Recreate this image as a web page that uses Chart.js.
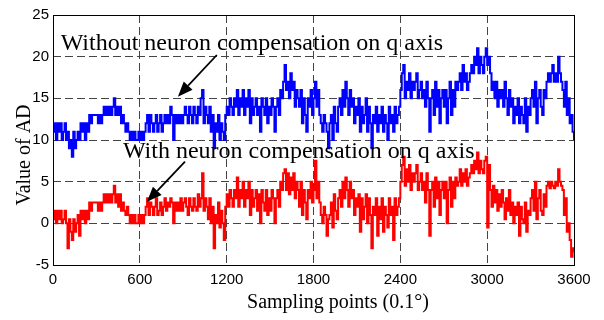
<!DOCTYPE html>
<html>
<head>
<meta charset="utf-8">
<script src="https://cdn.jsdelivr.net/npm/chart.js@4"></script>
<style>
  html, body { margin: 0; padding: 0; background: #fff; }
  #wrap { width: 604px; height: 320px; }
</style>
</head>
<body>
<div id="wrap"><canvas id="ad-chart" width="604" height="320"></canvas></div>
<script>
// sampling step between stored points (0.1 deg units)
const sampleStep = 10;

// AD values without neuron compensation (blue), one per sampleStep
const withoutComp = [
  11, 12, 10, 12, 11, 12, 10, 11, 12, 10,
  11, 9, 10, 8, 11, 9, 10, 11, 10, 12,
  11, 12, 10, 12, 11, 13, 12, 13, 13, 13,
  13, 12, 13, 12, 13, 14, 13, 14, 13, 14,
  13, 14, 15, 13, 14, 13, 14, 12, 13, 12,
  11, 12, 11, 10, 11, 10, 11, 10, 10, 11,
  10, 11, 10, 11, 12, 13, 11, 13, 12, 11,
  12, 13, 11, 12, 13, 11, 12, 13, 12, 13,
  12, 14, 13, 10, 13, 12, 13, 12, 13, 12,
  13, 14, 13, 12, 14, 13, 12, 14, 13, 12,
  14, 13, 15, 16, 12, 14, 13, 12, 14, 11,
  13, 9, 12, 11, 13, 10, 12, 11, 10, 13,
  14, 13, 15, 14, 13, 15, 14, 16, 13, 15,
  14, 16, 13, 15, 14, 16, 12, 15, 13, 14,
  15, 13, 14, 11, 15, 14, 13, 15, 12, 14,
  13, 15, 14, 11, 14, 15, 13, 16, 15, 17,
  19, 16, 17, 15, 18, 16, 17, 14, 16, 15,
  14, 16, 12, 15, 13, 11, 15, 14, 16, 13,
  15, 17, 14, 16, 13, 12, 11, 13, 12, 11,
  9, 12, 13, 10, 14, 12, 11, 14, 15, 13,
  16, 14, 17, 15, 13, 16, 14, 15, 12, 14,
  13, 15, 11, 14, 12, 13, 15, 11, 14, 12,
  9, 13, 12, 14, 11, 13, 12, 14, 11, 13,
  12, 10, 14, 12, 13, 11, 14, 12, 13, 14,
  16, 18, 19, 15, 17, 16, 18, 15, 17, 16,
  17, 18, 15, 16, 17, 15, 16, 14, 17, 15,
  11, 15, 16, 13, 17, 14, 16, 12, 15, 16,
  14, 16, 12, 15, 17, 13, 16, 14, 17, 16,
  17, 18, 16, 19, 17, 18, 16, 17, 18, 19,
  18, 20, 19, 21, 18, 20, 19, 18, 20, 21,
  19, 20, 18, 16, 17, 15, 17, 14, 16, 15,
  16, 14, 17, 15, 13, 16, 14, 15, 12, 14,
  13, 15, 12, 14, 13, 12, 15, 11, 14, 13,
  15, 16, 14, 17, 12, 15, 16, 14, 13, 16,
  15, 17, 18, 17, 18, 19, 17, 18, 17, 20,
  18, 17, 16, 14, 17, 13, 15, 12, 13, 11,
  10
];

// AD values with neuron compensation (red)
const withComp = [
  0.5, 1.5, 0, 1.5, 0.5, 1.5, 0, 0.5, 1.5, 0,
  -3, 0.5, -1, -2, 0.5, -1, 0, 1, -1.5, 1.5,
  0.5, 1.5, 0, 1.5, 0.5, 2.5, 1.5, 2.5, 2.5, 2.5,
  2.5, 1.5, 2.5, 1.5, 2.5, 3.5, 2.5, 3.5, 2.5, 3.5,
  2.5, 3.5, 4.5, 2.5, 3.5, 2, 3.5, 1.5, 2.5, 1.5,
  1, 2, 1, 0, 1, 0, 1, 0, 0, 1,
  0, 1, 0, 1, 2, 3, 1, 2.5, 2, 1,
  2, 3, 1, 1.5, 2.5, 1, 2, 3, 1.5, 2.5,
  2, 3, 2.5, 0, 2.5, 1.5, 2.5, 1.5, 3, 1.5,
  2.5, 3, 2, 1, 3, 2, 1.5, 3, 2, 1.5,
  3.5, 2, 3, 6, 1.5, 3, 2, 0.5, 3, 0,
  2, -3, 1, 0, 2.5, -0.5, 1.5, 0, -2, 2,
  3.5, 2, 4, 3, 2, 4, 3, 5.5, 2, 4,
  3, 5, 2, 4, 3, 5, 1, 4, 2, 3,
  4, 1.5, 3.5, 0, 4, 2.5, 1.5, 4, 1, 3,
  1.5, 4, 3, 0, 3, 4, 2, 5, 4, 6,
  6.5, 4, 6, 3.5, 5.5, 4, 6, 3, 5, 4,
  2, 5, 1, 4, 2.5, 0.5, 4, 3, 5, 2.5,
  4, 7.5, 3, 5, 2.5, 1, 0, 2, 1, -1.5,
  0.5, 1, 2.5, -0.5, 3.5, 1.5, 0.5, 3, 4, 2,
  5, 3, 5.5, 4, 2, 5, 3, 4, 1, 3,
  2, 3.5, -1, 3, 0.5, 2, 3.5, 0, 3, 1,
  -3, 2, 1, 3, -1.5, 2, 0.5, 3, -1, 2,
  1, -0.5, 3, 1, 2, -2, 3, 1, 2, 3,
  5, 7, 8, 4.5, 6.5, 5, 7, 4, 6, 5,
  6, 7, 4, 5, 6, 4, 5, 2.5, 6, 4,
  -1.5, 4, 5, 2, 5.5, 3, 5, 1, 4, 5,
  3, 5, 0, 4, 5.5, 2, 5, 3, 5.5, 4.5,
  5, 6.5, 4.5, 6, 5, 6.5, 4.5, 5.5, 6, 7,
  6, 7.5, 6.5, 8.5, 6, 7.5, 6.5, 6, 7.5, 8,
  -0.5, 7, 4, 2, 4.5, 2.5, 4, 1.5, 3.5, 2,
  4, 2.5, 0.5, 3, 1.5, 4, 1, 2.5, 0, 2,
  1, 2.5, -1.5, 2, 0.5, 0, 2.5, -1, 1.5, 1,
  3, 4, 1.5, 5, 0.5, 3, 4, 1.5, 1, 3.5,
  2, 4.5, 5, 4.2, 5, 4.5, 4.2, 5, 4.5, 6.5,
  5, 4.5, 4, 1, 3, -1, 0, -2, -4, -3,
  -3.5
];

const xTicks = [0, 600, 1200, 1800, 2400, 3000, 3600];
const yTicks = [-5, 0, 5, 10, 15, 20, 25];

// text labels with arrows, in data coordinates
const notes = [
  { text: "Without neuron compensation on q axis", at: [53, 20.8], tail: [1132, 20.2], head: [863, 15.2] },
  { text: "With neuron compensation on q axis", at: [483, 7.9], tail: [912, 7.4], head: [649, 2.6] }
];

function toPoints(values) {
  return values.map((v, i) => ({ x: i * sampleStep, y: v }));
}

const serif = "'Liberation Serif', 'Times New Roman', serif";

const decor = {
  id: "decor",
  afterDatasetsDraw(chart) {
    const { ctx, chartArea: a, scales } = chart;
    ctx.save();
    // frame
    ctx.strokeStyle = "#000";
    ctx.lineWidth = 1;
    ctx.strokeRect(Math.round(a.left) + 0.5, Math.round(a.top) + 0.5,
      Math.round(a.right - a.left), Math.round(a.bottom - a.top));

    // annotations
    ctx.fillStyle = "#000";
    ctx.font = "24px " + serif;
    ctx.textAlign = "left";
    ctx.textBaseline = "alphabetic";
    notes.forEach(n => {
      const tx = scales.x.getPixelForValue(n.at[0]);
      const ty = scales.y.getPixelForValue(n.at[1]);
      ctx.fillText(n.text, tx, ty);

      const x1 = scales.x.getPixelForValue(n.tail[0]);
      const y1 = scales.y.getPixelForValue(n.tail[1]);
      const x2 = scales.x.getPixelForValue(n.head[0]);
      const y2 = scales.y.getPixelForValue(n.head[1]);
      const ang = Math.atan2(y2 - y1, x2 - x1);
      const len = 15, half = 6;
      const bx = x2 - len * Math.cos(ang), by = y2 - len * Math.sin(ang);
      ctx.lineWidth = 1.8;
      ctx.beginPath();
      ctx.moveTo(x1, y1);
      ctx.lineTo(bx, by);
      ctx.stroke();
      ctx.beginPath();
      ctx.moveTo(x2, y2);
      ctx.lineTo(bx + half * Math.sin(ang), by - half * Math.cos(ang));
      ctx.lineTo(bx - half * Math.sin(ang), by + half * Math.cos(ang));
      ctx.closePath();
      ctx.fill();
    });

    // axis titles
    ctx.font = "20px " + serif;
    ctx.textAlign = "center";
    ctx.textBaseline = "middle";
    ctx.fillText("Sampling points (0.1°)", 338, 303);
    ctx.translate(25, 155);
    ctx.rotate(-Math.PI / 2);
    ctx.fillText("Value of AD", 0, 0);
    ctx.restore();
  }
};

const tickFont = { family: "'Liberation Sans', Arial", size: 15 };

new Chart(document.getElementById("ad-chart"), {
  type: "line",
  data: {
    datasets: [
      {
        label: "Without neuron compensation",
        data: toPoints(withoutComp),
        borderColor: "#0000ff",
        borderWidth: 2,
        pointRadius: 0,
        stepped: true,
        fill: false
      },
      {
        label: "With neuron compensation",
        data: toPoints(withComp),
        borderColor: "#ff0000",
        borderWidth: 2,
        pointRadius: 0,
        stepped: true,
        fill: false
      }
    ]
  },
  options: {
    responsive: false,
    animation: false,
    layout: { padding: { top: 15, right: 30, left: 0, bottom: 0 } },
    plugins: { legend: { display: false }, tooltip: { enabled: false } },
    scales: {
      x: {
        type: "linear",
        min: 0,
        max: 3600,
        afterBuildTicks: s => { s.ticks = xTicks.map(v => ({ value: v })); },
        afterFit: s => { s.height = 55; },
        grid: { color: "#444", lineWidth: 1, drawTicks: false },
        border: { display: false, dash: [8, 4] },
        ticks: { color: "#000", padding: 6, maxRotation: 0, font: tickFont, callback: v => String(v) }
      },
      y: {
        min: -5,
        max: 25,
        afterBuildTicks: s => { s.ticks = yTicks.map(v => ({ value: v })); },
        afterFit: s => { s.width = 53; },
        grid: { color: "#444", lineWidth: 1, drawTicks: false },
        border: { display: false, dash: [8, 4] },
        ticks: { color: "#000", padding: 4, font: tickFont, callback: v => String(v) }
      }
    }
  },
  plugins: [decor]
});
</script>
</body>
</html>
